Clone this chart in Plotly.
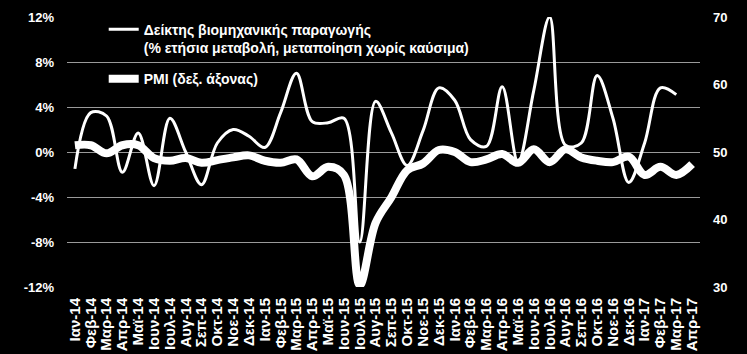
import plotly.graph_objects as go

months = ["Ιαν-14","Φεβ-14","Μαρ-14","Απρ-14","Μαϊ-14","Ιουν-14","Ιουλ-14","Αυγ-14","Σεπ-14","Οκτ-14","Νοε-14","Δεκ-14",
          "Ιαν-15","Φεβ-15","Μαρ-15","Απρ-15","Μαϊ-15","Ιουν-15","Ιουλ-15","Αυγ-15","Σεπ-15","Οκτ-15","Νοε-15","Δεκ-15",
          "Ιαν-16","Φεβ-16","Μαρ-16","Απρ-16","Μαϊ-16","Ιουν-16","Ιουλ-16","Αυγ-16","Σεπ-16","Οκτ-16","Νοε-16","Δεκ-16",
          "Ιαν-17","Φεβ-17","Μαρ-17","Απρ-17"]

industrial_production = [-1.5, 3.5, 3.2, -1.8, 1.7, -3.0, 3.0, 0.0, -2.9, 0.8, 2.0, 1.4,
                         0.4, 3.5, 7.0, 2.7, 2.6, 3.0, -8.0, 4.5, 1.7, -1.2, 1.9, 5.7,
                         4.6, 1.1, 0.5, 5.8, -0.9, 5.5, 12.0, 0.6, 0.8, 6.8, 3.0, -2.7,
                         0.8, 5.7, 5.1, None]

pmi = [51.0, 51.0, 49.8, 51.0, 51.0, 49.1, 48.7, 49.1, 48.4, 48.8, 49.2, 49.5,
       48.7, 48.4, 48.9, 46.4, 47.8, 46.6, 30.3, 39.5, 43.3, 47.3, 48.3, 50.3,
       50.0, 48.5, 48.9, 49.7, 48.4, 50.4, 48.5, 50.4, 49.2, 48.7, 48.5, 49.3,
       46.6, 47.8, 46.6, 48.2]

left_ticks = [-12, -8, -4, 0, 4, 8, 12]
left_tick_labels = ["-12%", "-8%", "-4%", "0%", "4%", "8%", "12%"]
right_ticks = [30, 40, 50, 60, 70]
right_tick_labels = ["30", "40", "50", "60", "70"]

FONT = "Liberation Sans, Arial, sans-serif"

fig = go.Figure()
fig.add_trace(go.Scatter(
    x=months, y=industrial_production, mode="lines", legendgroup="ip",
    name="Δείκτης βιομηχανικής παραγωγής<br>(% ετήσια μεταβολή, μεταποίηση χωρίς καύσιμα)",
    line=dict(color="white", width=3, shape="spline", smoothing=1),
    yaxis="y"))
fig.add_trace(go.Scatter(
    x=months, y=pmi, mode="lines", name="PMI (δεξ. άξονας)", legendgroup="pmi",
    line=dict(color="white", width=8, shape="spline", smoothing=1),
    yaxis="y2"))

fig.update_layout(
    width=747, height=354,
    margin=dict(l=67, r=47, t=17, b=67),
    paper_bgcolor="black", plot_bgcolor="black",
    font=dict(family=FONT, color="white", size=13),
    showlegend=True,
    legend=dict(x=0.058, y=1.012, xanchor="left", yanchor="top",
                bgcolor="rgba(0,0,0,0)", valign="top",
                traceorder="grouped", tracegroupgap=10,
                font=dict(family=FONT, size=14, color="white", weight="bold"),
                itemwidth=30),
    xaxis=dict(type="category", range=[-0.5, 39.5], tickangle=-90, automargin=False,
               tickmode="array", tickvals=months, ticktext=months,
               showgrid=False, zeroline=False, showline=False, ticks="",
               tickfont=dict(family=FONT, size=15, color="white", weight="bold"),
               ticklabelstandoff=7),
    yaxis=dict(range=[-12, 12], tickmode="array", tickvals=left_ticks, ticktext=left_tick_labels,
               automargin=False,
               showgrid=True, gridcolor="#9a9a9a", gridwidth=1,
               zeroline=True, zerolinecolor="#9a9a9a", zerolinewidth=1,
               showline=False, ticks="",
               tickfont=dict(family=FONT, size=13, color="white", weight="bold"),
               ticklabelstandoff=12),
    yaxis2=dict(range=[30, 70], tickmode="array", tickvals=right_ticks, ticktext=right_tick_labels,
                overlaying="y", side="right", automargin=False,
                showgrid=False, zeroline=False, showline=False, ticks="",
                tickfont=dict(family=FONT, size=13, color="white", weight="bold"),
                ticklabelstandoff=12),
)

fig.write_html("out.html")
